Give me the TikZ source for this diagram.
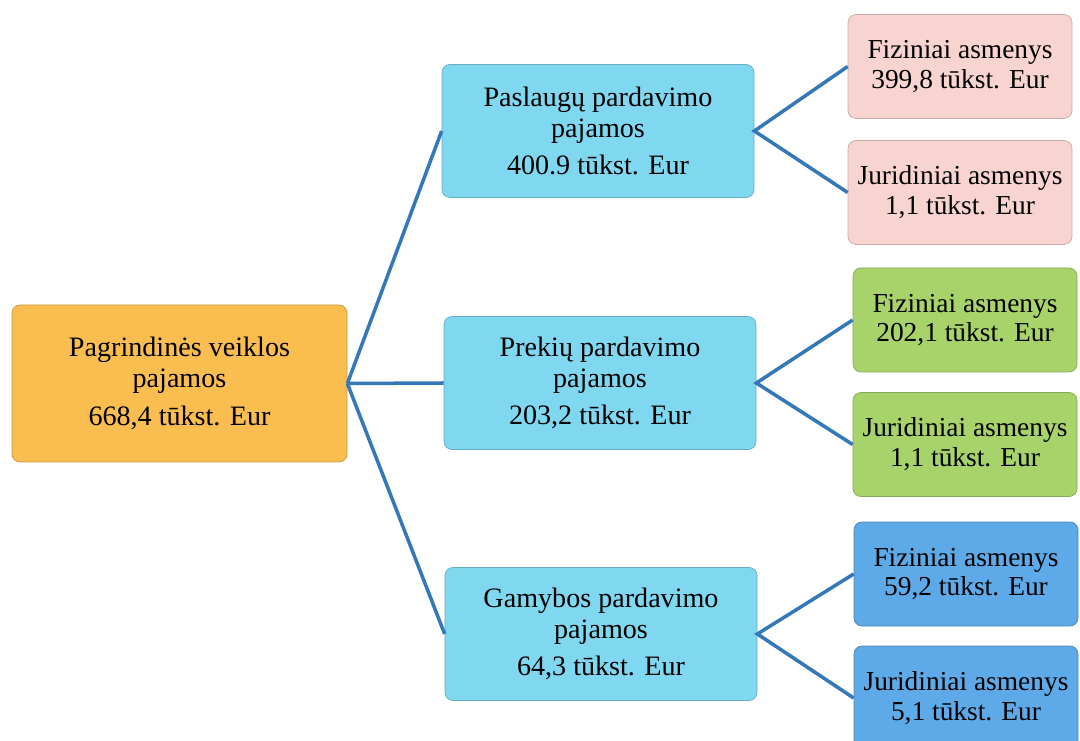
\documentclass[tikz,border=0pt]{standalone}
\usepackage{fontspec}
\setmainfont{Liberation Serif}
\usepackage{xcolor}
\definecolor{rootorange}{RGB}{250, 190, 80}
\definecolor{midcyan}{RGB}{128, 216, 240}
\definecolor{leafpink}{RGB}{247, 212, 208}
\definecolor{leafgreen}{RGB}{168, 210, 106}
\definecolor{leafblue}{RGB}{94, 170, 232}
\definecolor{linkblue}{RGB}{52, 120, 185}

\tikzset{
  box/.style={draw=#1!80!black, fill=#1, rounded corners=0.16cm, line width=0.4pt,
    align=center, inner sep=0pt, font=\fontsize{16}{17.5}\selectfont},
  rootbox/.style={box=rootorange, minimum width=6.7cm, minimum height=3.14cm},
  midbox/.style={box=midcyan, minimum width=6.24cm, minimum height=2.66cm},
  leafbox/.style={box=#1, minimum width=4.48cm, minimum height=2.08cm,
    font=\fontsize{15.6}{17}\selectfont},
  link/.style={draw=linkblue, line width=2pt}
}

\begin{document}
\begin{tikzpicture}
\useasboundingbox (0,0) rectangle (21.6cm,-14.82cm);

\node[rootbox] (root) at (3.59cm,-7.67cm) {Pagrindinės veiklos\\pajamos\\[4pt]668,4 tūkst. Eur};

\node[midbox] (paslaugu) at (11.96cm,-2.62cm) {Paslaugų pardavimo\\pajamos\\[4pt]400.9 tūkst. Eur};
\node[midbox] (prekiu) at (12.0cm,-7.66cm) {Prekių pardavimo\\pajamos\\[4pt]203,2 tūkst. Eur};
\node[midbox] (gamybos) at (12.02cm,-12.68cm) {Gamybos pardavimo\\pajamos\\[4pt]64,3 tūkst. Eur};

\node[leafbox=leafpink] (pasfiz) at (19.2cm,-1.33cm) {Fiziniai asmenys\\399,8 tūkst. Eur};
\node[leafbox=leafpink] (pasjur) at (19.2cm,-3.85cm) {Juridiniai asmenys\\1,1 tūkst. Eur};
\node[leafbox=leafgreen] (prefiz) at (19.3cm,-6.40cm) {Fiziniai asmenys\\202,1 tūkst. Eur};
\node[leafbox=leafgreen] (prejur) at (19.3cm,-8.89cm) {Juridiniai asmenys\\1,1 tūkst. Eur};
\node[leafbox=leafblue] (gamfiz) at (19.32cm,-11.48cm) {Fiziniai asmenys\\59,2 tūkst. Eur};
\node[leafbox=leafblue] (gamjur) at (19.32cm,-13.96cm) {Juridiniai asmenys\\5,1 tūkst. Eur};

% root to the three kinds of income
\draw[link] (root.east) -- (paslaugu.west);
\draw[link] (root.east) -- (prekiu.west);
\draw[link] (root.east) -- (gamybos.west);

% each kind split by buyer
\draw[link] (pasfiz.west) -- (paslaugu.east) -- (pasjur.west);
\draw[link] (prefiz.west) -- (prekiu.east) -- (prejur.west);
\draw[link] (gamfiz.west) -- (gamybos.east) -- (gamjur.west);

\end{tikzpicture}
\end{document}
